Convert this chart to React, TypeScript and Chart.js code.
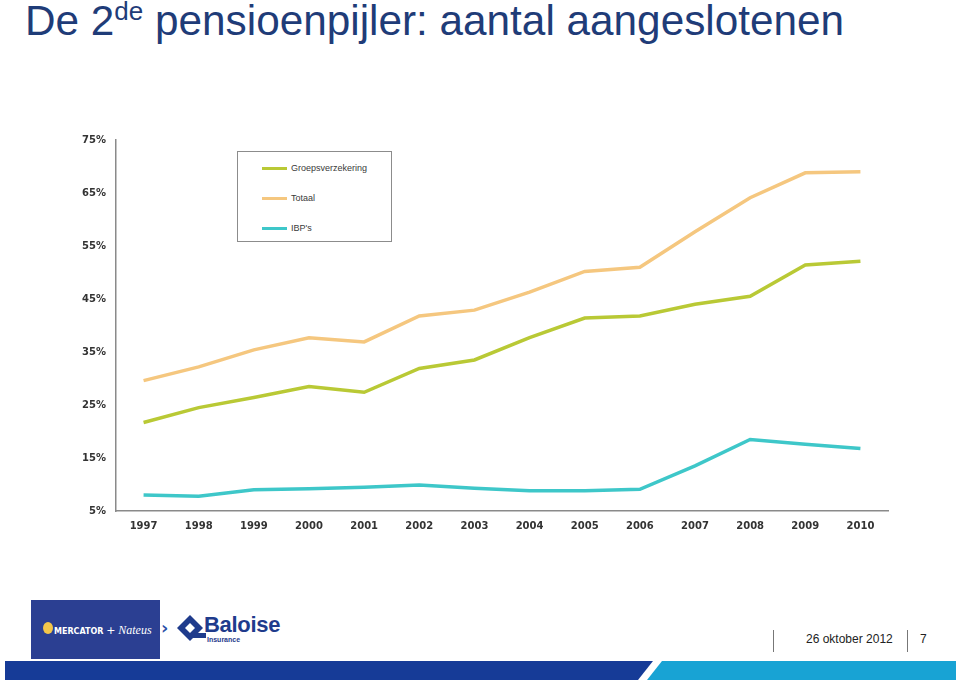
import React, { useEffect, useRef } from "react";
import { Chart, registerables } from "chart.js";

Chart.register(...registerables);

const years = ["1997", "1998", "1999", "2000", "2001", "2002", "2003", "2004", "2005", "2006", "2007", "2008", "2009", "2010"];
const groepsverzekering = [21.7, 24.5, 26.4, 28.5, 27.4, 31.9, 33.5, 37.7, 41.4, 41.8, 44.0, 45.5, 51.4, 52.1];
const totaal = [29.6, 32.2, 35.4, 37.7, 36.9, 41.8, 42.9, 46.3, 50.2, 51.0, 57.7, 64.1, 68.8, 69.0];
const ibps = [8.0, 7.8, 9.0, 9.2, 9.5, 9.9, 9.3, 8.8, 8.8, 9.1, 13.5, 18.5, 17.6, 16.8];
const seriesNames = ["Groepsverzekering", "Totaal", "IBP's"];
const seriesColors = ["#b9c935", "#f5c77f", "#3ec7c9"];
const yMin = 5;
const yMax = 75;
const yStep = 10;

export default function App() {
  const canvasRef = useRef<HTMLCanvasElement | null>(null);

  useEffect(() => {
    const canvas = canvasRef.current;
    if (!canvas) return;
    const seriesData = [groepsverzekering, totaal, ibps];
    const chart = new Chart(canvas, {
      type: "line",
      data: {
        labels: years,
        datasets: seriesNames.map((name, i) => ({
          label: name,
          data: seriesData[i],
          borderColor: seriesColors[i],
          backgroundColor: seriesColors[i],
          borderWidth: 3.5,
          pointRadius: 0,
          tension: 0,
          fill: false,
        })),
      },
      options: {
        responsive: false,
        animation: false,
        devicePixelRatio: 1,
        layout: { padding: { top: 40, right: 72, left: 0, bottom: 0 } },
        plugins: {
          legend: { display: false },
          tooltip: { enabled: false },
          title: { display: false },
        },
        scales: {
          x: {
            type: "category",
            offset: true,
            grid: { display: false, drawTicks: false },
            border: { display: true, color: "#8a8a8a", width: 1.5 },
            ticks: {
              color: "#333333",
              padding: 9,
              maxRotation: 0,
              autoSkip: false,
              font: { family: "DejaVu Sans", size: 10, weight: "bold" },
            },
            afterFit: (s: any) => {
              s.height = 39;
            },
          },
          y: {
            min: yMin,
            max: yMax,
            grid: { display: false, drawTicks: false },
            border: { display: true, color: "#8a8a8a", width: 1.5 },
            ticks: {
              stepSize: yStep,
              color: "#333333",
              padding: 10,
              font: { family: "DejaVu Sans", size: 10, weight: "bold" },
              callback: (v: any) => `${v}%`,
            },
            afterFit: (s: any) => {
              s.width = 116;
            },
          },
        },
      },
    });
    return () => chart.destroy();
  }, []);

  return (
    <div
      style={{
        position: "absolute",
        left: 0,
        top: 0,
        width: 960,
        height: 681,
        overflow: "hidden",
        background: "#ffffff",
        fontFamily: "'Liberation Sans', Arial, sans-serif",
      }}
    >
      <div
        style={{
          position: "absolute",
          left: 25,
          top: 0,
          fontSize: 42.3,
          lineHeight: "42px",
          color: "#1f3c78",
          whiteSpace: "nowrap",
        }}
      >
        De 2
        <span style={{ fontSize: 26, position: "relative", top: -15 }}>de</span> pensioenpijler: aantal aangeslotenen
      </div>

      <canvas
        ref={canvasRef}
        width={960}
        height={450}
        style={{ position: "absolute", left: 0, top: 100, width: 960, height: 450 }}
      />

      <div
        style={{
          position: "absolute",
          left: 237,
          top: 151,
          width: 155,
          height: 91,
          boxSizing: "border-box",
          border: "1.5px solid #8c8c8c",
          background: "#ffffff",
        }}
      >
        {seriesNames.map((name, i) => (
          <div key={name} style={{ position: "absolute", left: 0, top: 8 + i * 30, height: 16, width: 150 }}>
            <div
              style={{
                position: "absolute",
                left: 24,
                top: 6.5,
                width: 25,
                height: 3,
                background: seriesColors[i],
              }}
            />
            <div
              style={{
                position: "absolute",
                left: 53,
                top: 2,
                fontSize: 9,
                lineHeight: "12px",
                color: "#3a3a3a",
                whiteSpace: "nowrap",
              }}
            >
              {name}
            </div>
          </div>
        ))}
      </div>

      {/* Footer logos */}
      <div
        style={{
          position: "absolute",
          left: 31,
          top: 600,
          width: 129,
          height: 59,
          background: "#2b3f92",
        }}
      >
        <div
          style={{
            position: "absolute",
            left: 12,
            top: 22,
            width: 10,
            height: 12,
            borderRadius: "50%",
            background: "#f3c64a",
          }}
        />
        <div
          style={{
            position: "absolute",
            left: 23,
            top: 23,
            color: "#ffffff",
            fontSize: 8,
            fontWeight: "bold",
            whiteSpace: "nowrap",
            fontFamily: "'DejaVu Sans', sans-serif",
          }}
        >
          MERCATOR <span style={{ fontSize: 11, fontWeight: "normal" }}>+</span>{" "}
          <span style={{ fontSize: 12, fontStyle: "italic", fontWeight: "normal", fontFamily: "'Liberation Serif', serif" }}>
            Nateus
          </span>
        </div>
      </div>
      <div
        style={{
          position: "absolute",
          left: 161,
          top: 617,
          color: "#2b4fa8",
          fontSize: 18,
          fontWeight: "bold",
          fontFamily: "'DejaVu Sans', sans-serif",
        }}
      >
        ›
      </div>
      <svg style={{ position: "absolute", left: 176, top: 614 }} width={32} height={30} viewBox="0 0 32 30">
        <polygon points="14,1 27,14 14,27 1,14" fill="#1f3b8c" />
        <polygon points="14,9 19,14 14,19 9,14" fill="#ffffff" />
        <rect x="16" y="19" width="14" height="5" fill="#1f3b8c" />
      </svg>
      <div
        style={{
          position: "absolute",
          left: 204,
          top: 613,
          color: "#1f3b8c",
          fontSize: 22,
          lineHeight: "24px",
          fontWeight: "bold",
          letterSpacing: -0.3,
          whiteSpace: "nowrap",
        }}
      >
        Baloise
      </div>
      <div
        style={{
          position: "absolute",
          left: 207,
          top: 636,
          color: "#1f3b8c",
          fontSize: 7,
          fontWeight: "bold",
          whiteSpace: "nowrap",
        }}
      >
        Insurance
      </div>

      <div style={{ position: "absolute", left: 773, top: 630, width: 1, height: 22, background: "#777" }} />
      <div
        style={{
          position: "absolute",
          left: 806,
          top: 632,
          fontSize: 12,
          lineHeight: "14px",
          color: "#222",
          whiteSpace: "nowrap",
        }}
      >
        26 oktober 2012
      </div>
      <div style={{ position: "absolute", left: 907, top: 630, width: 1, height: 22, background: "#777" }} />
      <div
        style={{
          position: "absolute",
          left: 920,
          top: 632,
          fontSize: 12,
          lineHeight: "14px",
          color: "#222",
        }}
      >
        7
      </div>

      <div
        style={{
          position: "absolute",
          left: 5,
          top: 661,
          width: 648,
          height: 19,
          background: "#163b97",
          clipPath: "polygon(0 0, 100% 0, 633px 100%, 0 100%)",
        }}
      />
      <div
        style={{
          position: "absolute",
          left: 647,
          top: 661,
          width: 309,
          height: 19,
          background: "#18a3d4",
          clipPath: "polygon(15px 0, 100% 0, 100% 100%, 0 100%)",
        }}
      />
    </div>
  );
}
